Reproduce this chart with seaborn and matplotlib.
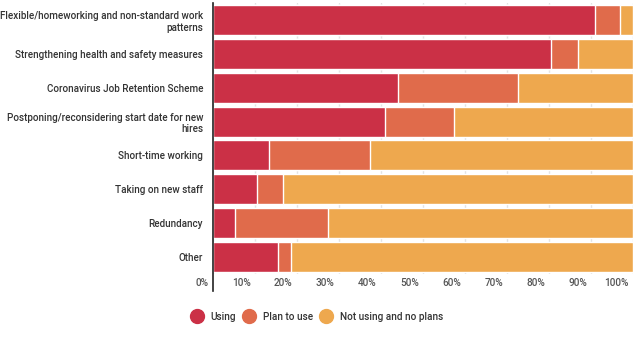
import matplotlib
matplotlib.use("Agg")
import matplotlib.pyplot as plt
import matplotlib.transforms as mtransforms
from matplotlib.lines import Line2D
import numpy as np
import pandas as pd
import seaborn as sns

categories = [
    "Flexible/homeworking and non-standard work\npatterns",
    "Strengthening health and safety measures",
    "Coronavirus Job Retention Scheme",
    "Postponing/reconsidering start date for new\nhires",
    "Short-time working",
    "Taking on new staff",
    "Redundancy",
    "Other",
]
using = [91.0, 80.5, 44.0, 41.0, 13.4, 10.6, 5.3, 15.6]
plan_to_use = [6.0, 6.5, 28.6, 16.5, 23.9, 6.0, 22.2, 3.0]
not_using = [3.0, 13.0, 27.4, 42.5, 62.7, 83.4, 72.5, 81.4]
series_names = ["Using", "Plan to use", "Not using and no plans"]
x_ticks = [0, 10, 20, 30, 40, 50, 60, 70, 80, 90, 100]

colors = ["#cb3046", "#e06b4b", "#eea84e"]

df = pd.DataFrame({"category": categories, "using": using,
                   "plan": plan_to_use, "not": not_using})
df["cum_plan"] = df["using"] + df["plan"]
df["cum_all"] = df["cum_plan"] + df["not"]

sns.set_style("white")
plt.rcParams["font.family"] = ["Roboto", "DejaVu Sans"]
plt.rcParams["font.weight"] = "medium"

fig = plt.figure(figsize=(6.35, 3.57), dpi=100)
ax = fig.add_axes([0.335, 0.233, 0.662, 0.758])

# stacked bars: draw cumulative totals, biggest first
for col, c in zip(["cum_all", "cum_plan", "using"], colors[::-1]):
    sns.barplot(data=df, x=col, y="category", color=c, width=0.885,
                saturation=1, ax=ax, zorder=2)

ax.set_xlim(0, 100)
ax.set_ylim(7.5, -0.5)
ax.set_xlabel("")
ax.set_ylabel("")
ax.set_xticks(x_ticks)
ax.set_xticklabels([f"{t}%" for t in x_ticks])
ax.grid(axis="x", color="#e3e3e3", linewidth=1, zorder=0)
ax.set_axisbelow(True)

for s in ["top", "right", "bottom"]:
    ax.spines[s].set_visible(False)
ax.spines["left"].set_color("#222222")
ax.spines["left"].set_linewidth(1.2)
ax.spines["left"].set_bounds(-0.5, 8.0)

ax.tick_params(axis="x", direction="out", length=13, width=1, color="#e3e3e3",
               pad=-10, labelsize=7.2, labelcolor="#555555")
ax.tick_params(axis="y", length=0, pad=7, labelsize=7.1, labelcolor="#333333")
offset = mtransforms.ScaledTranslation(-3 / 72, 0, fig.dpi_scale_trans)
for lab in ax.get_xticklabels():
    lab.set_horizontalalignment("right")
    lab.set_transform(lab.get_transform() + offset)
for lab in ax.get_yticklabels():
    lab.set_horizontalalignment("right")
    lab.set_multialignment("right")

handles = [Line2D([], [], marker="o", linestyle="none", markersize=10,
                  markerfacecolor=c, markeredgecolor=c) for c in colors]
fig.legend(handles, series_names, loc="center", bbox_to_anchor=(0.5, 0.113),
           ncol=3, frameon=False, fontsize=7.2, labelcolor="#333333",
           handletextpad=0.9, columnspacing=0.8, handlelength=1.0)

fig.savefig("out.png", dpi=100)
